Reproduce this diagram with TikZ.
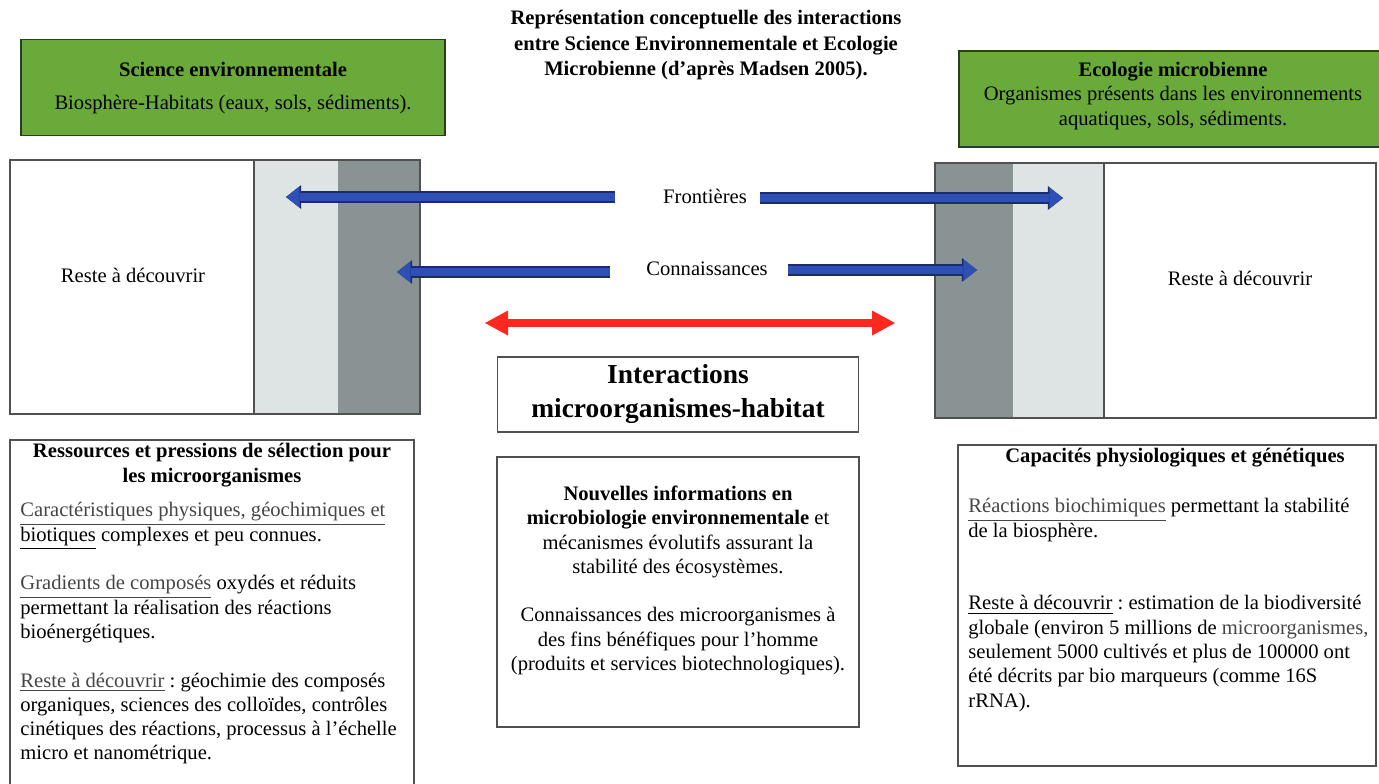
\documentclass[tikz,border=0pt]{standalone}
\usepackage{fontspec}
\setmainfont{Liberation Serif}
\usetikzlibrary{arrows.meta}
\frenchspacing
\definecolor{greenfill}{RGB}{106,170,58}
\definecolor{greenedge}{RGB}{40,60,30}
\definecolor{framecol}{RGB}{80,80,80}
\definecolor{lightcol}{RGB}{222,227,227}
\definecolor{darkcol}{RGB}{138,147,148}
\definecolor{bluefill}{RGB}{46,80,182}
\definecolor{blueedge}{RGB}{28,42,110}
\definecolor{redfill}{RGB}{255,40,30}
\definecolor{hl}{RGB}{70,70,70}
\tikzset{
  base/.style={font=\fontsize{10.3}{12.15}\selectfont, inner sep=0pt, text=black},
  greenbox/.style={draw=greenedge, line width=0.9pt, fill=greenfill, inner sep=0pt},
  frame/.style={draw=framecol, line width=0.7pt},
  barrow/.style={draw=bluefill, line width=4.4pt,
     -{Triangle[length=6.8pt,width=10.5pt,line width=0pt]},
     preaction={draw=blueedge, line width=5.8pt, -{Triangle[length=7.6pt,width=12pt,line width=0pt]}}},
  rarrow/.style={draw=redfill, line width=4pt,
     arrows={Triangle[length=11.5pt,width=12.5pt,line width=0pt]-Triangle[length=11.5pt,width=12.5pt,line width=0pt]}},
}
\begin{document}
\begin{tikzpicture}[x=0.5pt,y=-0.5pt]
\useasboundingbox (0,0) rectangle (1379,783);
\fill[white] (0,0) rectangle (1379,783);

% title
\node[base, align=center, font=\fontsize{10.3}{12.75}\selectfont\bfseries] (title) at (706,45.5)
  {Représentation conceptuelle des interactions\\entre Science Environnementale et Ecologie\\Microbienne (d’après Madsen 2005).};

% green boxes
\node[greenbox, minimum width=212pt, minimum height=48pt] (se) at (233,87.5) {};
\node[base, align=center] (set) at (233,88) {\textbf{Science environnementale}\\[4pt]Biosphère-Habitats (eaux, sols, sédiments).};
\node[greenbox, minimum width=211pt, minimum height=48pt] (em) at (1170,99) {};
\node[base, align=center] (emt) at (1173,96) {\textbf{Ecologie microbienne}\\Organismes présents dans les environnements\\aquatiques, sols, sédiments.};

% left panel
\fill[lightcol] (254,160) rectangle (338,414);
\fill[darkcol] (338,160) rectangle (420,414);
\draw[frame] (10,160) rectangle (420,414);
\draw[frame] (254,160) -- (254,414);
\node[base] (lr) at (133,275) {Reste à découvrir};

% right panel
\fill[darkcol] (935,163) rectangle (1013,418);
\fill[lightcol] (1013,163) rectangle (1104,418);
\draw[frame] (935,163) rectangle (1376,418);
\draw[frame] (1104,163) -- (1104,418);
\node[base] (rr) at (1240,278) {Reste à découvrir};

% labels and arrows
\node[base] (fr) at (705,196) {Frontières};
\node[base] (co) at (707,269) {Connaissances};
\coordinate (frLs) at (615,197);
\coordinate (frLe) at (286,197);
\coordinate (frRs) at (760,198);
\coordinate (frRe) at (1063,198);
\coordinate (coLs) at (610,272);
\coordinate (coLe) at (397,272);
\coordinate (coRs) at (788,270);
\coordinate (coRe) at (977,270);
\coordinate (reL) at (485,323);
\coordinate (reR) at (895,323);
\draw[barrow] (frLs) -- (frLe);
\draw[barrow] (frRs) -- (frRe);
\draw[barrow] (coLs) -- (coLe);
\draw[barrow] (coRs) -- (coRe);
\draw[rarrow] (reL) -- (reR);

% interactions box
\node[draw=framecol, line width=0.7pt, minimum width=180.5pt, minimum height=37.5pt, inner sep=0pt,
      align=center, font=\fontsize{13.7}{17}\selectfont\bfseries] (inter) at (678,394.5)
  {Interactions\\microorganismes-habitat};

% bottom left box
\draw[frame] (10,800) -- (10,440) -- (414,440) -- (414,800);
\node[base, align=center, font=\fontsize{10.3}{12.15}\selectfont\bfseries] (lbt) at (212,465)
  {Ressources et pressions de sélection pour\\les microorganismes};
\node[base, align=left, anchor=west] (lbb) at (20,633.5)
  {\textcolor{hl}{\underline{Caractéristiques physiques, géochimiques et}}\\
   \underline{biotiques} complexes et peu connues.\\[12.15pt]
   \textcolor{hl}{\underline{Gradients de composés}} oxydés et réduits\\
   permettant la réalisation des réactions\\
   bioénergétiques.\\[12.15pt]
   \textcolor{hl}{\underline{Reste à découvrir}} : géochimie des composés\\
   organiques, sciences des colloïdes, contrôles\\
   cinétiques des réactions, processus à l’échelle\\
   micro et nanométrique.};

% bottom center box
\draw[frame] (497,457) rectangle (859,727);
\node[base, align=center] (cb) at (678,580.5)
  {\textbf{Nouvelles informations en}\\
   \textbf{microbiologie environnementale} et\\
   mécanismes évolutifs assurant la\\
   stabilité des écosystèmes.\\[12.15pt]
   Connaissances des microorganismes à\\
   des fins bénéfiques pour l’homme\\
   (produits et services biotechnologiques).};

% bottom right box
\draw[frame] (958,445) rectangle (1376,766);
\node[base, font=\fontsize{10.3}{12.15}\selectfont\bfseries] (rbt) at (1175,458)
  {Capacités physiologiques et génétiques};
\node[base, align=left, anchor=west] (rbb) at (968,605)
  {\textcolor{hl}{\underline{Réactions biochimiques}} permettant la stabilité\\
   de la biosphère.\\[24.3pt]
   \underline{Reste à découvrir} : estimation de la biodiversité\\
   globale (environ 5 millions de \textcolor{hl}{microorganismes,}\\
   seulement 5000 cultivés et plus de 100000 ont\\
   été décrits par bio marqueurs (comme 16S\\
   rRNA).};
\end{tikzpicture}
\end{document}
